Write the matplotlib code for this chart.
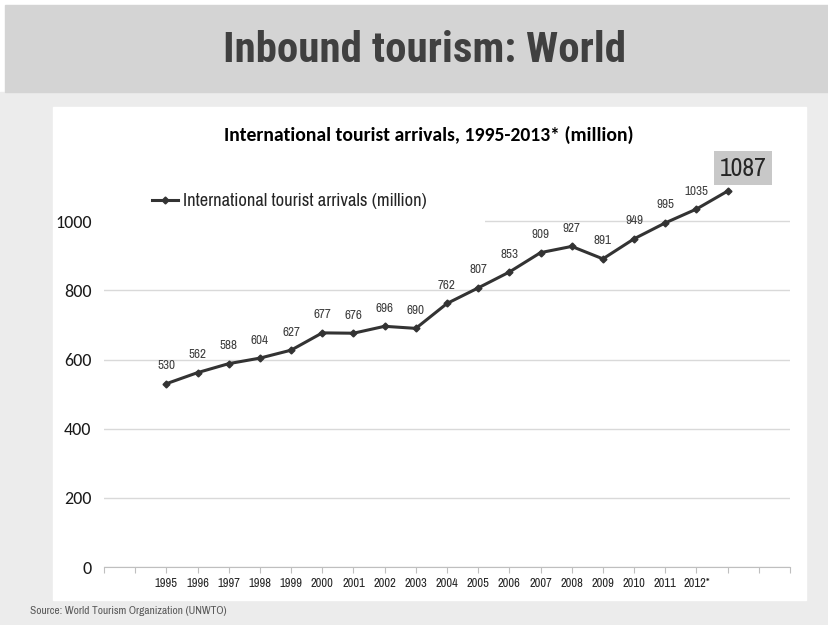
import matplotlib
matplotlib.use("Agg")
import matplotlib.pyplot as plt
from matplotlib.patches import Rectangle

# ---- data ----
years = [1995, 1996, 1997, 1998, 1999, 2000, 2001, 2002, 2003, 2004, 2005,
         2006, 2007, 2008, 2009, 2010, 2011, 2012, 2013]
arrivals = [530, 562, 588, 604, 627, 677, 676, 696, 690, 762, 807,
            853, 909, 927, 891, 949, 995, 1035, 1087]
tick_years = list(range(1993, 2016))
tick_labels = {y: str(y) for y in range(1995, 2012)}
tick_labels[2012] = "2012*"
y_ticks = [0, 200, 400, 600, 800, 1000]

header_title = "Inbound tourism: World"
chart_title = "International tourist arrivals, 1995-2013* (million)"
series_name = "International tourist arrivals (million)"
source_text = "Source: World Tourism Organization (UNWTO)"

NARROW = ["Archivo Narrow", "Liberation Sans", "DejaVu Sans"]
NARROW_B = ["Roboto Condensed", "Archivo Narrow", "Liberation Sans", "DejaVu Sans"]
CAL = ["Carlito", "Liberation Sans", "DejaVu Sans"]

W, H = 829, 625
fig = plt.figure(figsize=(W / 100, H / 100), dpi=100)
fig.patch.set_facecolor("white")

def px(x0, y0, x1, y1):
    return (x0 / W, 1 - y1 / H, (x1 - x0) / W, (y1 - y0) / H)

# background bands
l, b, w, h = px(0, 92, W, H)
fig.patches.append(Rectangle((l, b), w, h, transform=fig.transFigure, color="#ececec", zorder=-10))
l, b, w, h = px(5, 5, W, 92)
fig.patches.append(Rectangle((l, b), w, h, transform=fig.transFigure, color="#d4d4d4", zorder=-10))
l, b, w, h = px(53, 107, 806, 600)
fig.patches.append(Rectangle((l, b), w, h, transform=fig.transFigure, color="white", zorder=-9))

fig.text(425 / W, 1 - 50 / H, header_title, ha="center", va="center",
         fontsize=31, fontweight="bold", color="#404040", family=NARROW_B)
fig.text(30 / W, 1 - 611 / H, source_text, ha="left", va="center",
         fontsize=8.2, color="#595959", family=NARROW)
fig.text(429 / W, 1 - 135 / H, chart_title, ha="center", va="center",
         fontsize=14.1, fontweight="bold", color="#000000", family=CAL)

ax = fig.add_axes(px(104, 152, 790, 567))
ax.set_facecolor("none")
ax.set_xlim(tick_years[0], tick_years[-1])
ax.set_ylim(0, 1200)

ax.plot(years, arrivals, color="#333333", lw=2.2, marker="D", markersize=3.5,
        zorder=3, label=series_name)

for yr, v in zip(years[:-1], arrivals[:-1]):
    ax.annotate(str(v), (yr, v), xytext=(0, 9), textcoords="offset points",
                ha="center", va="bottom", fontsize=9.5, color="#404040", family=NARROW)
ax.annotate(str(arrivals[-1]), (years[-1], arrivals[-1]), xytext=(11, 16.5),
            textcoords="offset points", ha="center", va="center", fontsize=18.5,
            color="#262626", family=NARROW,
            bbox=dict(boxstyle="square,pad=0.22", fc="#c8c8c8", ec="none"))

# axes styling
for s in ["top", "right", "left"]:
    ax.spines[s].set_visible(False)
ax.spines["bottom"].set_color("#bfbfbf")
ax.set_yticks(y_ticks)
ax.set_yticklabels([str(v) for v in y_ticks], family=CAL, fontsize=13, color="#1a1a1a")
ax.tick_params(axis="y", length=0, pad=9)
ax.set_xticks(tick_years)
ax.set_xticklabels([tick_labels.get(y, "") for y in tick_years], family=NARROW,
                   fontsize=9, color="#262626")
ax.tick_params(axis="x", length=4, color="#bfbfbf", pad=4)
ax.grid(axis="y", color="#d9d9d9", lw=1)
ax.set_axisbelow(True)

# white area behind the legend hides part of the top gridline
ax.add_patch(Rectangle((0.0, 0.80), 0.555, 0.1, transform=ax.transAxes,
                       facecolor="white", edgecolor="none", zorder=1))

leg = ax.legend(loc="center left", bbox_to_anchor=(0.07, 0.882), frameon=False,
                handlelength=1.4, handletextpad=0.3, borderpad=0.0, borderaxespad=0.0,
                prop={"family": NARROW, "size": 13.3})
for t in leg.get_texts():
    t.set_color("#262626")

fig.savefig("out.png", dpi=100)
